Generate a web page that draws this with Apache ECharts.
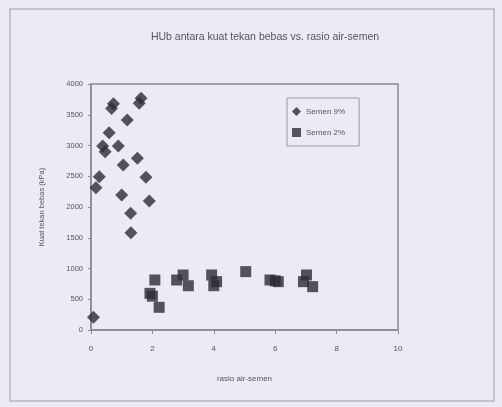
<!DOCTYPE html>
<html><head><meta charset="utf-8">
<script src="https://cdn.jsdelivr.net/npm/echarts@6/dist/echarts.min.js"></script>
<style>html,body{margin:0;padding:0;background:#ecebf3;}#c{width:502px;height:407px;}</style>
</head><body><div id="c"></div>
<script>
var title = 'HUb antara kuat tekan bebas vs. rasio air-semen';
var xName = 'rasio air-semen';
var yName = 'Kuat tekan bebas (kPa)';
var seriesNames = ['Semen 9%', 'Semen 2%'];
var semen9 = [
  [0.08, 206], [0.16, 2314], [0.27, 2493], [0.38, 2992], [0.46, 2900],
  [0.59, 3208], [0.67, 3600], [0.73, 3680], [0.89, 2992], [1.0, 2195],
  [1.05, 2683], [1.18, 3415], [1.29, 1897], [1.30, 1582], [1.51, 2792],
  [1.57, 3685], [1.63, 3767], [1.79, 2482], [1.90, 2098]
];
var semen2 = [
  [1.92, 596], [2.0, 550], [2.08, 813], [2.22, 369],
  [2.79, 813], [3.0, 894], [3.17, 720],
  [3.93, 894], [4.0, 720], [4.09, 786],
  [5.04, 949],
  [5.83, 813], [6.0, 800], [6.1, 786],
  [6.92, 786], [7.02, 894], [7.22, 705]
];
var chart = echarts.init(document.getElementById('c'));
var txt = '#55555e', mk = '#2c2c32';
chart.setOption({
  backgroundColor: '#ecebf3',
  animation: false,
  title: { text: title, left: 260, top: 27, textAlign: 'center',
    textStyle: { fontFamily: 'Liberation Sans', fontSize: 10.5, fontWeight: 'normal', color: txt } },
  graphic: [{ type: 'rect', shape: { x: 10, y: 9, width: 484, height: 392 },
    style: { fill: 'none', stroke: '#b8b7c2', lineWidth: 1.5 } }],
  legend: { left: 287, top: 98, orient: 'vertical', itemGap: 12, itemWidth: 9, itemHeight: 9,
    borderColor: '#9a9aa4', borderWidth: 1, padding: [9, 14, 9, 5],
    textStyle: { fontFamily: 'Liberation Sans', fontSize: 8, color: txt },
    data: [{ name: seriesNames[0], icon: 'diamond' }, { name: seriesNames[1], icon: 'rect' }] },
  grid: { left: 91, top: 84, right: 104, bottom: 77, show: true, borderColor: '#8a8a94', borderWidth: 1.5 },
  xAxis: { type: 'value', min: 0, max: 10, interval: 2,
    name: xName, nameLocation: 'middle', nameGap: 45,
    nameTextStyle: { fontFamily: 'Liberation Sans', fontSize: 8, color: txt },
    axisLine: { lineStyle: { color: '#8a8a94', width: 1.5 } },
    axisTick: { show: true, length: 4, lineStyle: { color: '#8a8a94' } },
    axisLabel: { fontFamily: 'Liberation Sans', fontSize: 8, color: txt, margin: 15 },
    splitLine: { show: false } },
  yAxis: { type: 'value', min: 0, max: 4000, interval: 500,
    name: yName, nameLocation: 'middle', nameGap: 45, nameRotate: 90,
    nameTextStyle: { fontFamily: 'Liberation Sans', fontSize: 7.5, color: txt },
    axisLine: { show: true, lineStyle: { color: '#8a8a94', width: 1.5 } },
    axisTick: { show: true, length: 3, lineStyle: { color: '#8a8a94' } },
    axisLabel: { fontFamily: 'Liberation Sans', fontSize: 7.5, color: txt, margin: 8,
      formatter: function (v) { return String(v); } },
    splitLine: { show: false } },
  series: [
    { name: seriesNames[0], type: 'scatter', symbol: 'diamond', symbolSize: 13,
      itemStyle: { color: mk }, data: semen9 },
    { name: seriesNames[1], type: 'scatter', symbol: 'rect', symbolSize: 11,
      itemStyle: { color: mk }, data: semen2 }
  ]
});
</script></body></html>
